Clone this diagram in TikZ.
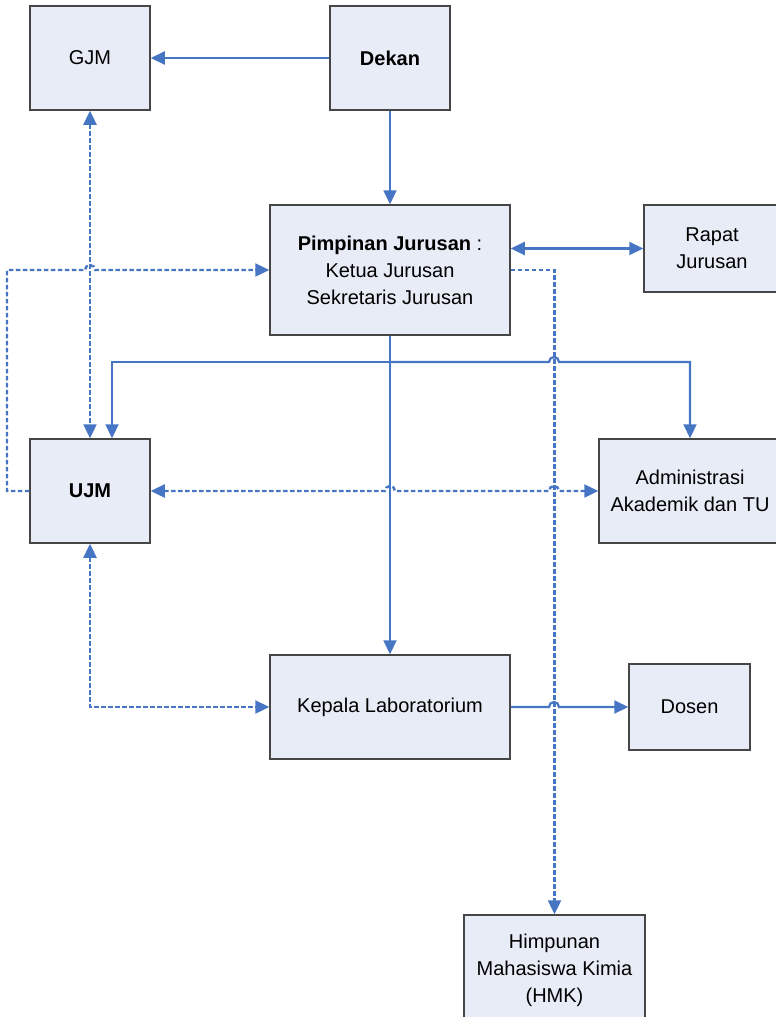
\documentclass[tikz,border=0pt]{standalone}
\usepackage{fontspec}
\setmainfont{Liberation Sans}
\usepackage{xcolor}
\usetikzlibrary{arrows, arrows.meta}
\usetikzlibrary{positioning}
\usetikzlibrary{calc}

\definecolor{boxfill}{RGB}{231,236,247}
\definecolor{boxline}{RGB}{70,70,70}
\definecolor{linkblue}{RGB}{70,117,196}

\begin{document}
\begin{tikzpicture}[x=1pt, y=-1pt,
	unit/.style={draw=boxline, fill=boxfill, line width=1.5pt, align=center, inner sep=0pt, font=\fontsize{20}{27}\selectfont},
	sline/.style={linkblue, line width=2.2pt},
	dline/.style={linkblue, line width=2.4pt, dash pattern=on 4.5pt off 2.5pt},
	>={Triangle[length=14pt, width=13pt]}]
	\useasboundingbox (0,0) rectangle (776,1017);

	% boxes
	\node[unit, minimum width=120pt, minimum height=104pt] (gjm) at (90,58) {GJM};
	\node[unit, minimum width=120pt, minimum height=104pt] (dekan) at (390,58) {\textbf{Dekan}};
	\node[unit, minimum width=240pt, minimum height=130pt] (pim) at (390,270) {\textbf{Pimpinan Jurusan} :\\Ketua Jurusan\\Sekretaris Jurusan};
	\node[unit, minimum width=136pt, minimum height=87pt] (rapat) at (712,248.5) {Rapat\\Jurusan};
	\node[unit, minimum width=120pt, minimum height=104pt] (ujm) at (90,491) {\textbf{UJM}};
	\node[unit, minimum width=182pt, minimum height=104pt] (admin) at (690,491) {Administrasi\\Akademik dan TU};
	\node[unit, minimum width=240pt, minimum height=104pt] (kalab) at (390,707) {Kepala Laboratorium};
	\node[unit, minimum width=121pt, minimum height=86pt] (dosen) at (689.5,707) {Dosen};
	\node[unit, minimum width=181pt, minimum height=110pt] (hmk) at (554.5,970) {Himpunan\\Mahasiswa Kimia\\(HMK)};

	% solid lines
	\draw[sline, ->] (dekan.west) -- (gjm.east);
	\draw[sline, ->] (dekan.south) -- (pim.north);
	\draw[sline, <->] (pim.east |- rapat.west) -- (rapat.west);
	\draw[sline, ->] (pim.south) -- (kalab.north);
	\draw[sline, ->] (390,362) -| ([xshift=22pt]ujm.north);
	\draw[sline, ->] (390,362) -- (549,362) arc (180:0:5pt) -| (admin.north);
	\draw[sline, ->] (kalab.east) -- (549,707) arc (180:0:5pt) -- (dosen.west);

	% dashed lines
	\draw[dline, <->] (gjm.south) -- (ujm.north);
	\draw[dline, ->] (ujm.west) -- (7,491) -- (7,270) -- (85,270) arc (180:0:5pt) -- (pim.west);
	\draw[dline, ->] (pim.east) -| (hmk.north);
	\draw[dline, <->] (ujm.east) -- (385,491) arc (180:0:5pt) -- (549,491) arc (180:0:5pt) -- (admin.west);
	\draw[dline, <->] (ujm.south) |- (kalab.west);
\end{tikzpicture}
\end{document}
